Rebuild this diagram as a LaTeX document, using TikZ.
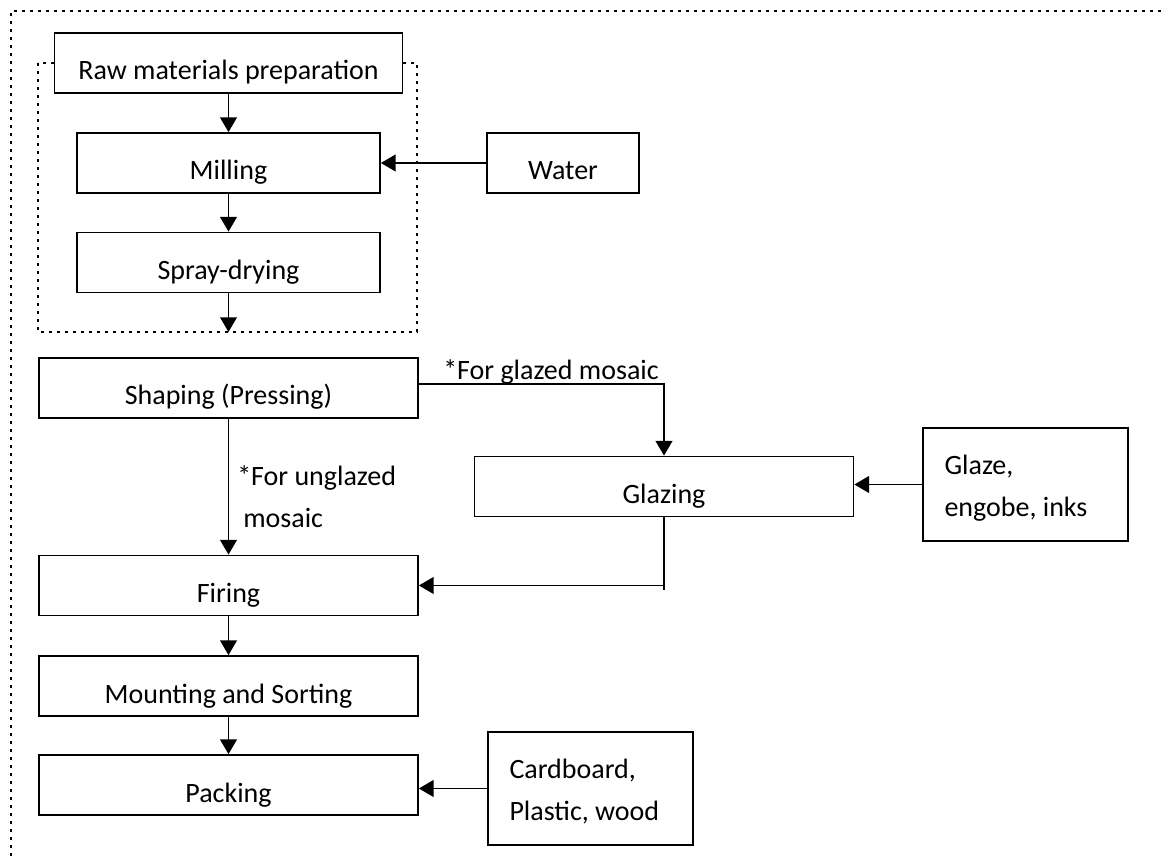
\documentclass[tikz,border=0pt]{standalone}
\usepackage{fontspec}
\setmainfont{Carlito}
\usetikzlibrary{arrows.meta}
\newcommand{\flowfont}{\fontsize{21pt}{31.5pt}\selectfont\frenchspacing}
\tikzset{
    procbox/.style={draw, fill=white, line width=1.3pt, minimum height=45pt, inner sep=0pt, text height=25.5pt, text depth=0pt, font=\flowfont},
    wideproc/.style={procbox, minimum width=284.25pt},
    inputbox/.style={draw, fill=white, line width=1.3pt, minimum width=153.75pt, minimum height=84.75pt, inner sep=0pt, text width=121.5pt, align=flush left, font=\flowfont},
    note/.style={inner sep=0pt, font=\flowfont},
    flow/.style={line width=1.3pt, -{Triangle[length=11pt,width=12.5pt]}},
    plain/.style={line width=1.3pt},
    dotbox/.style={line width=2pt, dash pattern=on 2.6pt off 3.4pt}
}
\begin{document}
\begin{tikzpicture}[x=0.75pt, y=-0.75pt]
    \useasboundingbox (0,0) rectangle (1161,859);
    \clip (0,0) rectangle (1161,859);
    % dotted frames
    \draw[dotbox] (11,880) -- (11,11) -- (1180,11);
    \draw[dotbox] (38,63) rectangle (417,332);

    % main line
    \node[procbox, minimum width=261pt] (raw) at (228.5,63) {Raw materials preparation};
    \node[procbox, minimum width=227.25pt] (mill) at (228.5,163) {Milling};
    \node[procbox, minimum width=227.25pt] (spray) at (228.5,262.5) {Spray-drying};
    \coordinate (sprayout) at (228.5,332);
    \node[wideproc] (shape) at (228.5,388) {Shaping (Pressing)};
    \node[wideproc] (glazing) at (664,486.5) {Glazing};
    \node[wideproc] (firing) at (228.5,585.5) {Firing};
    \node[wideproc] (mount) at (228.5,686) {Mounting and Sorting};
    \node[wideproc] (pack) at (228.5,785) {Packing};

    % inputs
    \node[procbox, minimum width=114pt] (water) at (563,163) {Water};
    \node[inputbox] (glaze) at (1025.5,484.5) {\rule{0pt}{22.5pt}Glaze,\\engobe, inks\rule[-5.5pt]{0pt}{5.5pt}};
    \node[inputbox] (board) at (590.5,788.5) {\rule{0pt}{22pt}Cardboard,\\Plastic, wood\rule[-5.5pt]{0pt}{5.5pt}};

    % labels
    \node[note, anchor=base west] (glzlbl) at (443,380) {*For glazed mosaic};
    \node[note, anchor=base west, text width=170pt, align=flush left] (unglbl) at (237,485) {*For unglazed\\\hspace*{4.5pt}mosaic};

    % arrows
    \draw[flow] (raw) -- (mill);
    \draw[flow] (mill) -- (spray);
    \draw[flow] (spray) -- (sprayout);
    \draw[flow] (water) -- (mill);
    \draw[flow] ([yshift=3pt]shape.east) -| (glazing.north);
    \draw[flow] (glaze.west) -- (glaze.west -| glazing.east);
    \draw[flow] (shape) -- (firing);
    \draw[plain] (glazing.south) -- ([yshift=-3pt]glazing.south |- firing.east);
    \draw[flow] (glazing.south |- firing.east) -- (firing.east);
    \draw[flow] (firing) -- (mount);
    \draw[flow] (mount) -- (pack);
    \draw[flow] (board.west) -- (board.west -| pack.east);
\end{tikzpicture}
\end{document}
